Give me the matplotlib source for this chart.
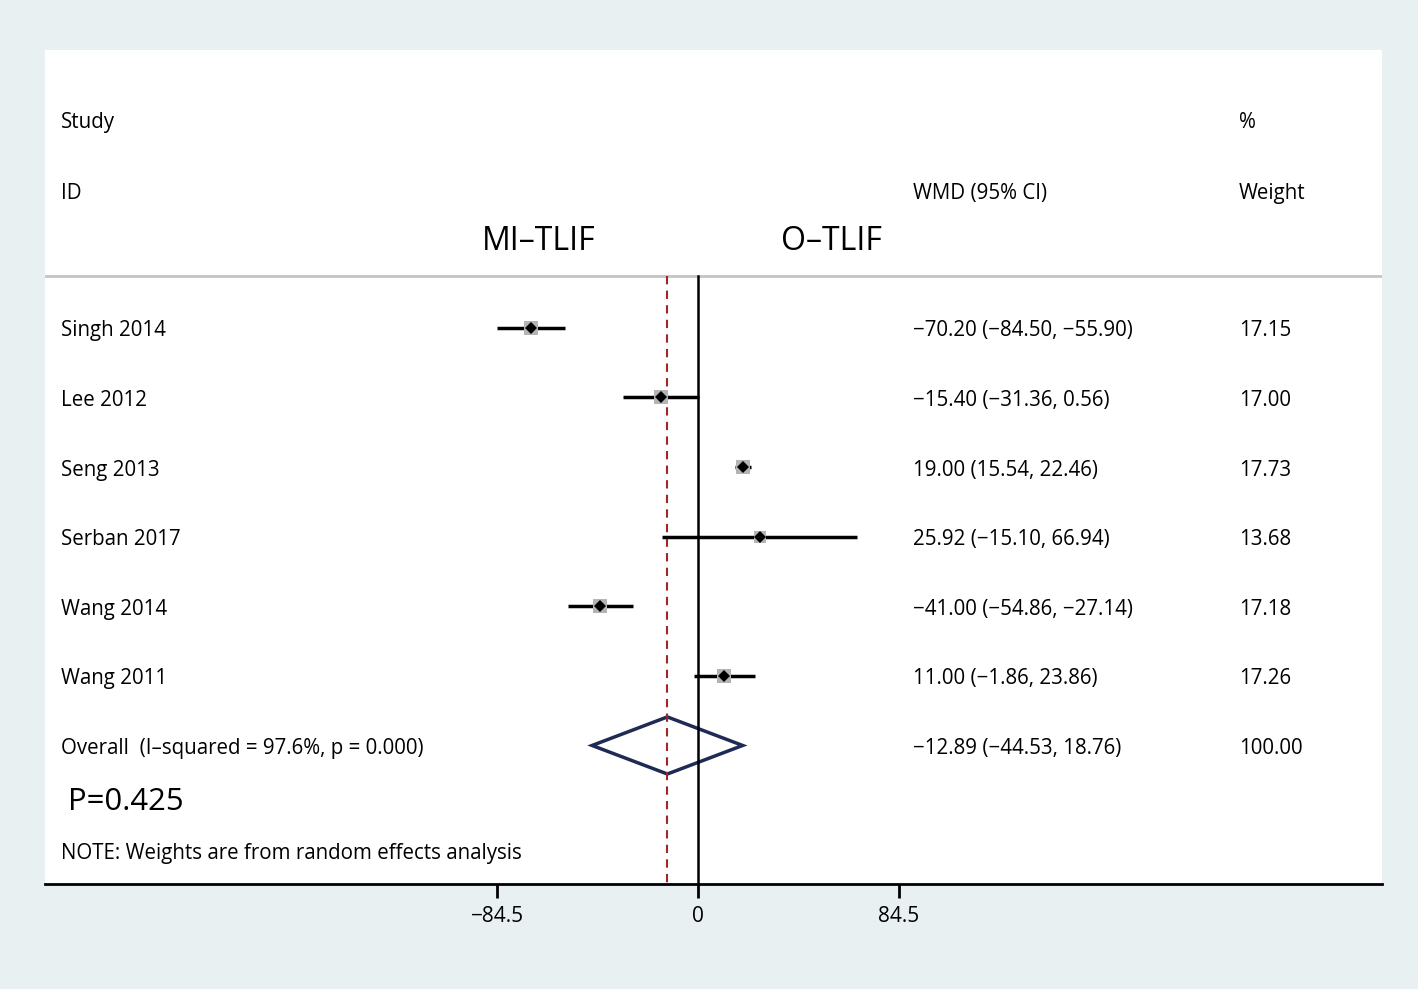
import numpy as np
import matplotlib.pyplot as plt
from matplotlib import transforms

# forest plot data
studies = ['Singh 2014', 'Lee 2012', 'Seng 2013', 'Serban 2017', 'Wang 2014', 'Wang 2011']
wmd = [-70.20, -15.40, 19.00, 25.92, -41.00, 11.00]
ci_lo = [-84.50, -31.36, 15.54, -15.10, -54.86, -1.86]
ci_hi = [-55.90, 0.56, 22.46, 66.94, -27.14, 23.86]
weights = [17.15, 17.00, 17.73, 13.68, 17.18, 17.26]

overall = -12.89
overall_lo = -44.53
overall_hi = 18.76
overall_label = 'Overall  (I\u2013squared = 97.6%, p = 0.000)'

xticks = [-84.5, 0, 84.5]
xtick_labels = ['\u221284.5', '0', '84.5']

def fmt(v):
    return f'{v:.2f}'.replace('-', '\u2212')

plt.rcParams['font.family'] = ['Open Sans', 'DejaVu Sans']

fig = plt.figure(figsize=(14.18, 9.89), dpi=100, facecolor='#e9f0f2')
W, H = 1418, 989
ax = fig.add_axes([45 / W, (H - 884) / H, (1382 - 45) / W, (884 - 50) / H])
ax.set_facecolor('white')
ax.set_xlim(-274.5, 287.5)
ax.set_ylim(7.99, -3.99)
for s in ['top', 'left', 'right']:
    ax.spines[s].set_visible(False)
ax.spines['bottom'].set_linewidth(2)
ax.set_yticks([])
ax.set_xticks(xticks)
ax.set_xticklabels(xtick_labels, fontsize=15)
ax.tick_params(axis='x', length=10, width=2, pad=6)

tr = transforms.blended_transform_factory(ax.transAxes, ax.transData)
fs = 14.8
dy = 0.045
col_study = 0.012
col_wmd = 0.6493
col_w = 0.893

def txt(x, y, s, size=fs, **kw):
    ax.text(x, y + dy, s, transform=kw.pop('transform', tr), fontsize=size, va='center', **kw)

# headers
txt(col_study, -2.99, 'Study')
txt(col_study, -1.98, 'ID')
txt(col_wmd, -1.98, 'WMD (95% CI)')
txt(col_w, -2.99, '%')
txt(col_w, -1.98, 'Weight')
txt(-67, -1.29, 'MI\u2013TLIF', size=23, ha='center', transform=ax.transData)
txt(56, -1.29, 'O\u2013TLIF', size=23, ha='center', transform=ax.transData)
ax.axhline(-0.747, color='#c4c4c4', lw=2)

# reference lines
ax.plot([0, 0], [-0.747, 7.99], color='black', lw=1.8)
ax.plot([overall, overall], [-0.747, 7.99], color='#a0262a', lw=1.5, ls=(0, (4, 3)))

# studies
for i, name in enumerate(studies):
    ax.plot([ci_lo[i], ci_hi[i]], [i, i], color='black', lw=2.5, solid_capstyle='butt')
    ax.plot(wmd[i], i, marker='s', color='#b4b4b4', ms=10 * np.sqrt(weights[i] / 17.73), mew=0)
    ax.plot(wmd[i], i, marker='D', color='black', ms=6, mew=0)
    txt(col_study, i, name)
    txt(col_wmd, i, f'{fmt(wmd[i])} ({fmt(ci_lo[i])}, {fmt(ci_hi[i])})')
    txt(col_w, i, f'{weights[i]:.2f}')

# overall diamond
r = len(studies)
ax.fill([overall_lo, overall, overall_hi, overall, overall_lo],
        [r, r - 0.41, r, r + 0.41, r], facecolor='none', edgecolor='#1f2a55', lw=2.5)
txt(col_study, r, overall_label)
txt(col_wmd, r, f'{fmt(overall)} ({fmt(overall_lo)}, {fmt(overall_hi)})')
txt(col_w, r, '100.00')

txt(0.017, 6.76, 'P=0.425', size=22.4)
txt(col_study, 7.51, 'NOTE: Weights are from random effects analysis')

fig.savefig('out.png', dpi=100, facecolor=fig.get_facecolor())
